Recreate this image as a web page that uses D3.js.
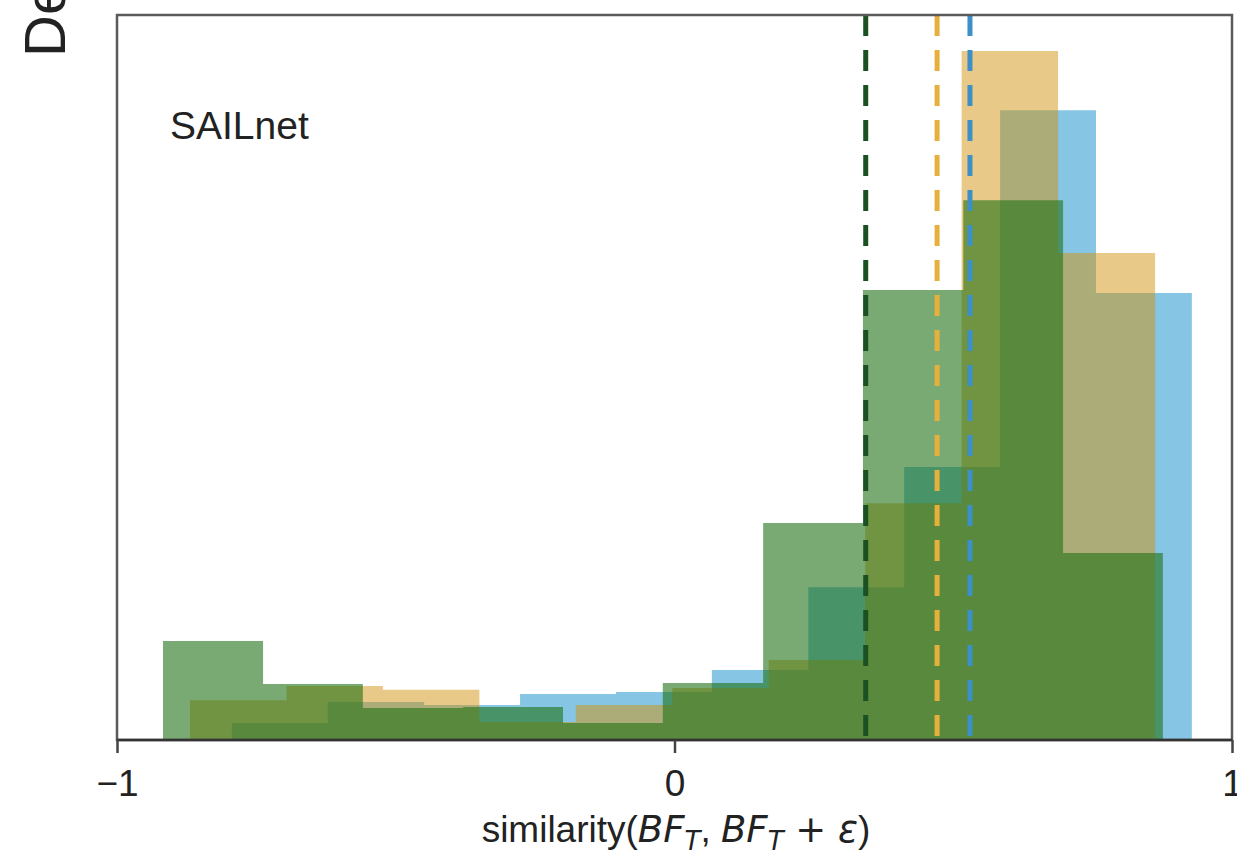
<!DOCTYPE html>
<html><head><meta charset="utf-8">
<script src="https://cdn.jsdelivr.net/npm/d3@7"></script>
<style>body{margin:0;background:#fff} svg{display:block}</style>
</head><body>
<svg id="chart" width="1237" height="857"></svg>
<script>
// ---- data ----
const blueEdges   = [-0.794, -0.622, -0.449, -0.277, -0.105, 0.067, 0.240, 0.412, 0.584, 0.756, 0.928];
const blueDensity = [0.056, 0.126, 0.116, 0.152, 0.159, 0.232, 0.506, 0.904, 2.085, 1.480];
const orangeEdges   = [-0.869, -0.696, -0.523, -0.350, -0.177, -0.004, 0.169, 0.342, 0.515, 0.688, 0.862];
const orangeDensity = [0.132, 0.179, 0.166, 0.060, 0.116, 0.172, 0.265, 0.784, 2.281, 1.612];
const greenEdges   = [-0.9175, -0.738, -0.559, -0.379, -0.200, -0.021, 0.159, 0.338, 0.518, 0.697, 0.876];
const greenDensity = [0.328, 0.185, 0.106, 0.109, 0.056, 0.189, 0.718, 1.490, 1.787, 0.619];
const meanNames  = ["green", "orange", "blue"];
const meanValues = [0.343, 0.471, 0.530];
const xTickValues = [-1, 0, 1];
const xTickLabels = ["\u22121", "0", "1"];
const panelLabel = "SAILnet";
const yLabel = "Density";

(function () {
// ---- layout ----
const pLeft = 117, pRight = 1232, pTop = 15, pBottom = 740;
const svg = d3.select("#chart");
const x = d3.scaleLinear().domain([-1, 1]).range([pLeft, pRight]);
const y = d3.scaleLinear().domain([0, 2.4]).range([pBottom, pTop]);

const fills = {blue: ["#52acd7", 0.7], orange: ["#d1930f", 0.5], green: ["#217116", 0.6]};
const lineCols = {green: "#1b5023", orange: "#e6b03c", blue: "#3d8fc7"};
const series = [
  {name: "blue", edges: blueEdges, dens: blueDensity},
  {name: "orange", edges: orangeEdges, dens: orangeDensity},
  {name: "green", edges: greenEdges, dens: greenDensity}
];

const area = d3.area().curve(d3.curveStepAfter)
  .x(d => x(d[0])).y0(y(0)).y1(d => y(d[1]));

series.forEach(s => {
  const pts = s.dens.map((d, i) => [s.edges[i], d]);
  pts.push([s.edges[s.edges.length - 1], s.dens[s.dens.length - 1]]);
  svg.append("path").attr("d", area(pts))
    .attr("fill", fills[s.name][0]).attr("fill-opacity", fills[s.name][1]);
});

// mean lines
meanValues.forEach((m, i) => {
  svg.append("line")
    .attr("x1", x(m)).attr("x2", x(m))
    .attr("y1", y(2.4)).attr("y2", y(0))
    .attr("stroke", lineCols[meanNames[i]])
    .attr("stroke-width", 5)
    .attr("stroke-dasharray", "21,14");
});

// frame
svg.append("rect").attr("x", pLeft).attr("y", pTop)
  .attr("width", pRight - pLeft).attr("height", pBottom - pTop)
  .attr("fill", "none").attr("stroke", "#5a5a5a").attr("stroke-width", 2.5);
svg.append("line").attr("x1", pLeft).attr("x2", pRight).attr("y1", pBottom).attr("y2", pBottom)
  .attr("stroke", "#333").attr("stroke-width", 2.5);

// x axis
const ax = svg.append("g").attr("transform", `translate(0,${pBottom})`)
  .call(d3.axisBottom(x).tickValues(xTickValues).tickFormat((d, i) => xTickLabels[i]).tickSize(13).tickPadding(17));
ax.select(".domain").remove();
ax.selectAll(".tick line").attr("stroke", "#444").attr("stroke-width", 2.5);
ax.selectAll(".tick text").attr("font-family", "'Liberation Sans', Arial, sans-serif")
  .attr("font-size", 37).attr("fill", "#222");

// x label
const xl = svg.append("text").attr("x", 676).attr("y", 842).attr("text-anchor", "middle")
  .attr("font-family", "'Liberation Sans', Arial, sans-serif").attr("font-size", 37).attr("fill", "#222");
const mathFont = "'DejaVu Sans', sans-serif";
xl.append("tspan").text("similarity(");
xl.append("tspan").attr("font-family", mathFont).attr("font-style", "italic").attr("font-size", 37).text("BF");
xl.append("tspan").attr("font-family", mathFont).attr("font-style", "italic").attr("font-size", 26).attr("dy", 8).text("T");
xl.append("tspan").attr("dy", -8).text(", ");
xl.append("tspan").attr("font-family", mathFont).attr("font-style", "italic").attr("font-size", 37).text("BF");
xl.append("tspan").attr("font-family", mathFont).attr("font-style", "italic").attr("font-size", 26).attr("dy", 8).text("T");
xl.append("tspan").attr("dy", -8).attr("font-family", mathFont).attr("font-size", 37).text(" + ");
xl.append("tspan").attr("font-family", mathFont).attr("font-style", "italic").attr("font-size", 37).text("\u03B5");
xl.append("tspan").text(")");

// panel label
svg.append("text").attr("x", 170).attr("y", 139)
  .attr("font-family", "'Liberation Sans', Arial, sans-serif").attr("font-size", 39).attr("fill", "#222")
  .text(panelLabel);

// y label (cropped at top, as in the reference)
svg.append("text").attr("transform", "translate(65,57) rotate(-90)")
  .attr("font-family", "'Liberation Sans', Arial, sans-serif").attr("font-size", 58).attr("fill", "#222")
  .text(yLabel);
})();
</script>
</body></html>
